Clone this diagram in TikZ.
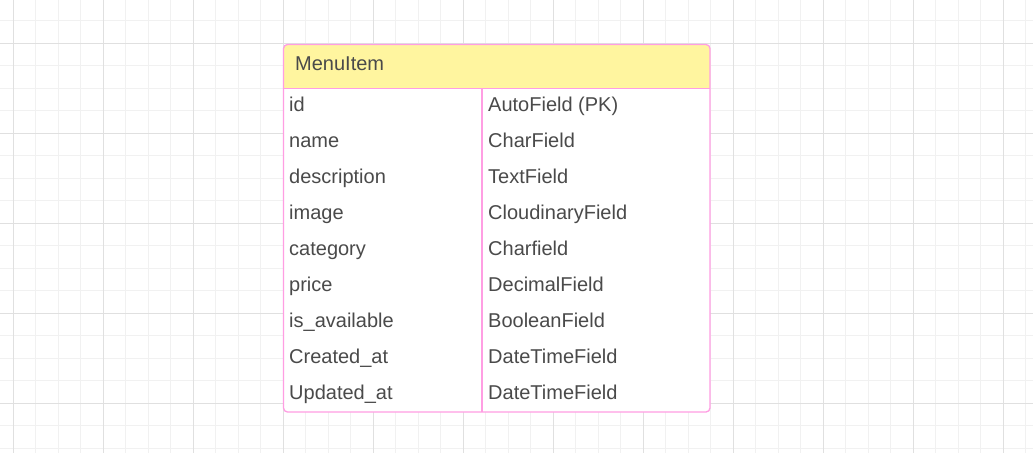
\documentclass[tikz,border=0pt]{standalone}
\usepackage{fontspec}
\setmainfont{Liberation Sans}
\definecolor{gridminor}{HTML}{F1F1F1}
\definecolor{gridmajor}{HTML}{E0E0E0}
\definecolor{tblborder}{HTML}{FF9EE3}
\definecolor{hdrfill}{HTML}{FFF59F}
\definecolor{txt}{HTML}{4A4A4A}
\tikzset{
  minorline/.style={draw=gridminor,line width=1pt},
  majorline/.style={draw=gridmajor,line width=1pt},
  tablebox/.style={draw=tblborder,line width=1.3pt,rounded corners=4pt},
  cell/.style={anchor=base west,inner sep=0pt,text=txt,font=\fontsize{20}{24}\selectfont},
}
\begin{document}
\begin{tikzpicture}[x=1pt,y=-1pt]
\useasboundingbox (0,0) rectangle (1033,453);
\fill[white] (0,0) rectangle (1033,453);
% grid
\foreach \k in {-1,...,46} {
  \pgfmathsetmacro{\gx}{13.3+22.5*\k}
  \draw[minorline] (\gx,0) -- (\gx,453);
}
\foreach \k in {-1,...,20} {
  \pgfmathsetmacro{\gy}{43.3+22.5*\k}
  \draw[minorline] (0,\gy) -- (1033,\gy);
}
\foreach \k in {0,...,11} {
  \pgfmathsetmacro{\gx}{13.3+90*\k}
  \draw[majorline] (\gx,0) -- (\gx,453);
}
\foreach \k in {0,...,4} {
  \pgfmathsetmacro{\gy}{43.3+90*\k}
  \draw[majorline] (0,\gy) -- (1033,\gy);
}
% table
\coordinate (tl) at (283.5,44.5);
\coordinate (br) at (710,412);
\fill[white,rounded corners=4pt] (tl) rectangle (br);
\fill[hdrfill,rounded corners=4pt] (tl) rectangle (710,88.5);
\fill[hdrfill] (283.5,70) rectangle (710,88.5);
\draw[tablebox] (tl) rectangle (br);
\coordinate (hl) at (283.5,88.5);
\coordinate (hr) at (710,88.5);
\draw[draw=tblborder,line width=1.3pt] (hl) -- (hr);
\coordinate (dt) at (482,88.5);
\coordinate (db) at (482,412);
\draw[draw=tblborder,line width=1.3pt] (dt) -- (db);
\node[cell] (hdr) at (295,70) {MenuItem};
\foreach \i/\a/\b in {0/id/AutoField (PK),1/name/CharField,2/description/TextField,3/image/CloudinaryField,4/category/Charfield,5/price/DecimalField,6/is\_available/BooleanField,7/Created\_at/DateTimeField,8/Updated\_at/DateTimeField} {
  \node[cell] (f\i) at (289,111.3+36*\i) {\a};
  \node[cell] (t\i) at (488,111.3+36*\i) {\b};
}
\end{tikzpicture}
\end{document}
